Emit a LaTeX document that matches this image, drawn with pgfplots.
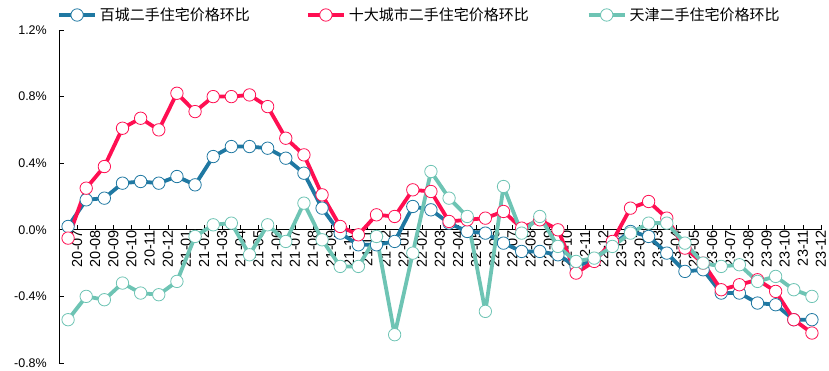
\documentclass[border=0pt]{standalone}
\usepackage{pgfplots}
\pgfplotsset{compat=1.18}
\usepackage{pgfplotstable}
\usepackage{fontspec}
\setmainfont{Liberation Sans}
\newfontfamily\cjk{Noto Sans CJK SC}
\definecolor{cblue}{HTML}{1F78A2}
\definecolor{cred}{HTML}{FF0F52}
\definecolor{cteal}{HTML}{6EC4B4}
\pgfplotstableread{
i blue red teal
0 0.02 -0.05 -0.54
1 0.18 0.25 -0.40
2 0.19 0.38 -0.42
3 0.28 0.61 -0.32
4 0.29 0.67 -0.38
5 0.28 0.60 -0.39
6 0.32 0.82 -0.31
7 0.27 0.71 -0.04
8 0.44 0.80 0.03
9 0.50 0.80 0.04
10 0.50 0.81 -0.15
11 0.49 0.74 0.03
12 0.43 0.55 -0.07
13 0.34 0.45 0.16
14 0.13 0.21 -0.06
15 -0.02 0.02 -0.22
16 -0.09 -0.03 -0.22
17 -0.09 0.09 -0.04
18 -0.07 0.08 -0.63
19 0.14 0.24 -0.14
20 0.12 0.23 0.35
21 0.04 0.05 0.19
22 -0.01 0.06 0.08
23 -0.02 0.07 -0.49
24 -0.08 0.11 0.26
25 -0.13 0.01 -0.02
26 -0.13 0.06 0.08
27 -0.15 0.00 -0.10
28 -0.22 -0.26 -0.19
29 -0.18 -0.19 -0.17
30 -0.09 -0.07 -0.10
31 -0.01 0.13 -0.02
32 -0.04 0.17 0.04
33 -0.14 0.07 0.04
34 -0.25 -0.11 -0.08
35 -0.24 -0.20 -0.20
36 -0.38 -0.36 -0.22
37 -0.38 -0.33 -0.21
38 -0.44 -0.30 -0.31
39 -0.45 -0.37 -0.28
40 -0.54 -0.54 -0.36
41 -0.54 -0.62 -0.40
}\data
\begin{document}
\begin{tikzpicture}
\useasboundingbox (-59pt,-8pt) rectangle (770pt,363pt);
\begin{axis}[
  scale only axis, width=762pt, height=333pt,
  xmin=-0.5, xmax=41.5, ymin=-0.8, ymax=1.2,
  axis x line=middle, axis y line=left,
  axis line style={-, black, line width=0.9pt},
  clip=false,
  xtick={0,...,41},
  xticklabels={20-07,20-08,20-09,20-10,20-11,20-12,21-01,21-02,21-03,21-04,21-05,21-06,21-07,21-08,21-09,21-10,21-11,21-12,22-01,22-02,22-03,22-04,22-05,22-06,22-07,22-08,22-09,22-10,22-11,22-12,23-01,23-02,23-03,23-04,23-05,23-06,23-07,23-08,23-09,23-10,23-11,23-12},
  major x tick style={draw=none},
  minor xtick={-0.5,0.5,...,41.5},
  minor x tick style={black, line width=0.6pt},
  minor tick length=5pt,
  xtick align=inside,
  xticklabel style={rotate=90, anchor=east, inner sep=0pt, yshift=-9pt, font=\fontsize{14.5}{15}\selectfont},
  ytick={-0.8,-0.4,0,0.4,0.8,1.2},
  ytick align=inside,
  major tick length=5pt,
  y tick style={black, line width=0.6pt},
  yticklabel={\pgfmathprintnumber[fixed,fixed zerofill,precision=1]{\tick}\%},
  yticklabel style={font=\fontsize{12.5}{14}\selectfont, anchor=east, inner sep=0pt, xshift=-12pt},
  /pgf/number format/assume math mode=true,
  legend columns=3,
  legend style={draw=none, fill=none, inner sep=0pt, at={(axis description cs:0,1)}, anchor=west, xshift=-2pt, yshift=15pt,
    font=\cjk\fontsize{15}{18}\selectfont,
    /tikz/every even column/.append style={column sep=0pt},
    /tikz/every odd column/.append style={column sep=3pt},
    nodes={inner sep=0pt, outer sep=0pt}},
  legend image code/.code={\draw[mark repeat=2,mark phase=2,#1] plot coordinates {(0pt,0pt) (18pt,0pt) (36pt,0pt)};},
  every axis plot/.append style={line width=3.8pt, line join=round, mark=*, mark size=6.2pt},
]
\addplot[cblue, mark options={fill=white, draw=cblue, line width=0.8pt}] table[x=i, y=blue] {\data};
\addlegendentry{\makebox[206pt][l]{百城二手住宅价格环比}}
\addplot[cred, mark options={fill=white, draw=cred, line width=0.8pt}] table[x=i, y=red] {\data};
\addlegendentry{\makebox[238pt][l]{十大城市二手住宅价格环比}}
\addplot[cteal, mark options={fill=white, draw=cteal, line width=0.8pt}] table[x=i, y=teal] {\data};
\addlegendentry{天津二手住宅价格环比}
\end{axis}
\end{tikzpicture}
\end{document}
